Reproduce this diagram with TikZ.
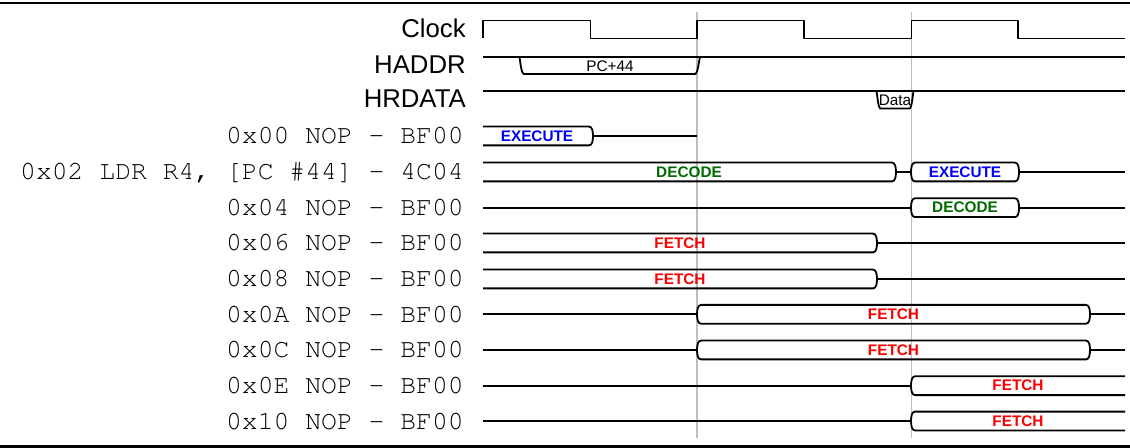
\documentclass[tikz,border=0pt]{standalone}
\usepackage[T1]{fontenc}
\usepackage{fontspec}
\setmainfont{Liberation Sans}
\newcommand\courfont{\fontencoding{T1}\fontfamily{pcr}\fontseries{m}\fontshape{n}\selectfont}
\definecolor{exblue}{RGB}{0,0,245}
\definecolor{decgreen}{RGB}{0,105,0}
\definecolor{fetchred}{RGB}{250,0,0}
\definecolor{gridgray}{RGB}{190,190,190}
\tikzset{
  sig/.style={line width=1.35pt, line join=round, line cap=butt},
  gridline/.style={draw=gridgray, line width=0.8pt},
  rulebar/.style={line width=1.8pt},
  siglab/.style={anchor=base east, inner sep=0pt, font=\fontsize{19.3}{21}\selectfont},
  codelab/.style={anchor=base east, inner sep=0pt, font=\courfont\fontsize{19.8}{22}\selectfont},
  stagelab/.style={anchor=center, inner sep=0pt, font=\fontsize{11.5}{13}\selectfont\bfseries},
  buslab/.style={anchor=center, inner sep=0pt, font=\fontsize{11.5}{13}\selectfont}
}
% bus box with "(" start and ")" end: #1 centre y, #2 start x, #3 end x
\newcommand\tbLR[3]{%
  \draw[sig] (#2,#1) .. controls (#2,#1-5) and (#2+1,#1-9.4) .. (#2+4,#1-9.4) -- (#3-4,#1-9.4)
    .. controls (#3-1,#1-9.4) and (#3,#1-5) .. (#3,#1)
    .. controls (#3,#1+5) and (#3-1,#1+9.4) .. (#3-4,#1+9.4) -- (#2+4,#1+9.4)
    .. controls (#2+1,#1+9.4) and (#2,#1+5) .. cycle;}
% open start, ")" end
\newcommand\tbR[3]{%
  \draw[sig] (#2,#1-9.4) -- (#3-4,#1-9.4)
    .. controls (#3-1,#1-9.4) and (#3,#1-5) .. (#3,#1)
    .. controls (#3,#1+5) and (#3-1,#1+9.4) .. (#3-4,#1+9.4) -- (#2,#1+9.4);}
% "(" start, open end
\newcommand\tbL[3]{%
  \draw[sig] (#3,#1-9.4) -- (#2+4,#1-9.4)
    .. controls (#2+1,#1-9.4) and (#2,#1-5) .. (#2,#1)
    .. controls (#2,#1+5) and (#2+1,#1+9.4) .. (#2+4,#1+9.4) -- (#3,#1+9.4);}
\newcommand\zline[3]{\draw[sig] (#2,#1) -- (#3,#1);}
\begin{document}
\begin{tikzpicture}[x=0.75pt,y=-0.75pt]
\useasboundingbox (0,0) rectangle (1130,448);
% rules
\draw[rulebar] (0,3) -- (1130,3);
\draw[rulebar] (0,446.5) -- (1130,446.5);
% grid lines
\draw[gridline] (697,12) -- (697,438);
\draw[gridline] (911.5,12) -- (911.5,438);
% labels
\node[siglab] (lclk) at (466,38) {Clock};
\node[siglab] (lhaddr) at (466,73.5) {HADDR};
\node[siglab] (lhrdata) at (466,108) {HRDATA};
\node[codelab] (l0) at (464,144) {0x00 NOP - BF00};
\node[codelab] (l1) at (464,180) {0x02 LDR R4, [PC \#44] - 4C04};
\node[codelab] (l2) at (464,215.7) {0x04 NOP - BF00};
\node[codelab] (l3) at (464,251) {0x06 NOP - BF00};
\node[codelab] (l4) at (464,287) {0x08 NOP - BF00};
\node[codelab] (l5) at (464,322.3) {0x0A NOP - BF00};
\node[codelab] (l6) at (464,358) {0x0C NOP - BF00};
\node[codelab] (l7) at (464,393.7) {0x0E NOP - BF00};
\node[codelab] (l8) at (464,429) {0x10 NOP - BF00};
% clock
\draw[sig] (483,38.5) -- (483,20.5) -- (590.5,20.5) -- (590.5,38.5) -- (697,38.5) -- (697,20.5)
  -- (804,20.5) -- (804,38.5) -- (911.5,38.5) -- (911.5,20.5) -- (1018,20.5) -- (1018,38.5) -- (1125,38.5);
% HADDR
\draw[sig] (483,57) -- (1125,57);
\draw[sig] (519.5,57) .. controls (520.5,63) and (521,72) .. (523.5,74) -- (695.5,74)
  .. controls (698,72) and (698.5,63) .. (700,57);
\node[buslab] (pc) at (610,66) {PC+44};
% HRDATA
\draw[sig] (483,91) -- (1125,91);
\draw[sig] (876.5,91) .. controls (877.5,97) and (878,106) .. (880,108.5) -- (910,108.5)
  .. controls (912,106) and (912.5,97) .. (913.5,91);
\node[buslab] (data) at (895,100) {Data};
% row 0x00
\tbR{136}{483}{593}
\zline{136}{593}{697}
\node[stagelab, text=exblue] (s0) at (537,136) {EXECUTE};
% row 0x02
\tbR{172}{483}{896}
\zline{172}{896}{911}
\tbLR{172}{911}{1019}
\zline{172}{1019}{1125}
\node[stagelab, text=decgreen] (s1a) at (689,172) {DECODE};
\node[stagelab, text=exblue] (s1b) at (965,172) {EXECUTE};
% row 0x04
\zline{207.7}{483}{911}
\tbLR{207.7}{911}{1019}
\zline{207.7}{1019}{1125}
\node[stagelab, text=decgreen] (s2) at (965,207.7) {DECODE};
% row 0x06
\tbR{243}{483}{877}
\zline{243}{877}{1125}
\node[stagelab, text=fetchred] (s3) at (680,243) {FETCH};
% row 0x08
\tbR{279}{483}{877}
\zline{279}{877}{1125}
\node[stagelab, text=fetchred] (s4) at (680,279) {FETCH};
% row 0x0A
\zline{314.3}{483}{697}
\tbLR{314.3}{697}{1090}
\zline{314.3}{1090}{1125}
\node[stagelab, text=fetchred] (s5) at (893.5,314.3) {FETCH};
% row 0x0C
\zline{350}{483}{697}
\tbLR{350}{697}{1090}
\zline{350}{1090}{1125}
\node[stagelab, text=fetchred] (s6) at (893.5,350) {FETCH};
% row 0x0E
\zline{385.7}{483}{911}
\tbL{385.7}{911}{1125}
\node[stagelab, text=fetchred] (s7) at (1018,385.7) {FETCH};
% row 0x10
\zline{421}{483}{911}
\tbL{421}{911}{1125}
\node[stagelab, text=fetchred] (s8) at (1018,421) {FETCH};
\end{tikzpicture}
\end{document}
